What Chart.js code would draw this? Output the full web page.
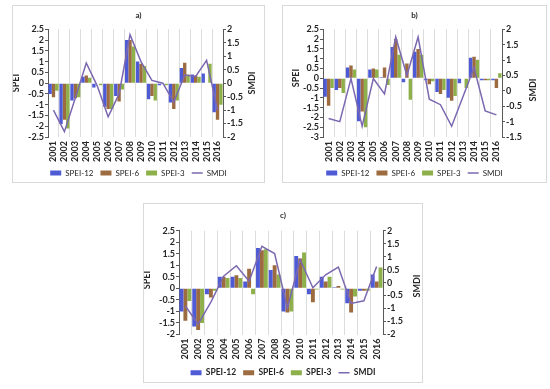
<!DOCTYPE html>
<html>
<head>
<meta charset="utf-8">
<script src="https://cdn.jsdelivr.net/npm/chart.js@4.4.1/dist/chart.umd.min.js"></script>
<style>
  body { margin: 0; background: #fff; width: 550px; height: 389px; position: relative; overflow: hidden; }
  .panel { position: absolute; border: 1px solid #d9d9d9; box-sizing: border-box; }
  canvas { position: absolute; }
</style>
</head>
<body>
<div class="panel" style="left:12px;top:5px;width:253px;height:178px"></div>
<div class="panel" style="left:282px;top:5px;width:265px;height:178px"></div>
<div class="panel" style="left:143px;top:203px;width:280px;height:180px"></div>
<canvas id="chartA" width="251" height="181" style="left:13px;top:6px"></canvas>
<canvas id="chartB" width="263" height="181" style="left:283px;top:6px"></canvas>
<canvas id="chartC" width="278" height="183" style="left:144px;top:204px"></canvas>
<script>
// Data
const years = ['2001', '2002', '2003', '2004', '2005', '2006', '2007', '2008',
               '2009', '2010', '2011', '2012', '2013', '2014', '2015', '2016'];
const seriesNames = ['SPEI-12', 'SPEI-6', 'SPEI-3', 'SMDI'];
const leftTitle = 'SPEI';
const rightTitle = 'SMDI';

// panel a)
const aSpei12 = [-0.5, -1.9, -0.8, 0.3, -0.2, -1.1, -0.6, 2.0, 1.0, -0.75, -0.1, -0.9, 0.7, 0.4, 0.45, -1.35];
const aSpei6  = [-0.65, -1.7, -0.7, 0.35, 0.0, -1.2, -0.85, 2.0, 0.9, -0.6, 0.0, -1.2, 0.95, 0.35, 0.0, -1.7];
const aSpei3  = [-0.35, -2.1, -0.65, 0.25, -0.1, -1.2, -0.3, 1.7, 0.8, -0.8, -0.1, -0.8, 0.4, 0.3, 0.9, -1.0];
const aSmdi   = [-1.0, -1.8, -0.55, 0.75, -0.1, -1.25, -0.4, 1.8, 0.8, 0.1, 0.0, -0.7, 0.3, 0.25, 0.85, -1.0];

// panel b)
const bSpei12 = [-0.95, -0.6, 0.55, -2.2, 0.45, 0.05, 1.6, -0.2, 1.35, -0.1, -0.7, -1.0, -0.25, 1.05, -0.1, -0.1];
const bSpei6  = [-1.4, -0.5, 0.65, -1.7, 0.5, 0.55, 2.0, 0.75, 1.5, -0.3, -0.8, -1.15, 0.0, 1.1, -0.1, -0.5];
const bSpei3  = [-0.5, -0.75, 0.45, -2.5, 0.45, -0.35, 1.2, -1.1, 1.2, -0.15, -0.6, -0.9, -0.5, 0.95, -0.1, 0.25];
const bSmdi   = [-0.9, -1.0, 0.4, -1.15, 0.4, -0.1, 1.75, 0.5, 1.75, -0.27, -0.45, -1.15, -0.2, 0.75, -0.65, -0.78];

// panel c)
const cSpei12 = [-1.0, -1.65, -0.25, 0.5, 0.5, 0.3, 1.75, 0.8, -1.0, 1.4, -0.25, 0.5, 0.05, -0.65, -0.1, 0.6];
const cSpei6  = [-1.4, -1.8, -0.4, 0.5, 0.57, 0.85, 1.65, 1.0, -1.05, 1.3, -0.6, 0.3, 0.1, -1.05, -0.1, 0.3];
const cSpei3  = [-0.55, -1.5, -0.1, 0.45, 0.45, -0.25, 1.7, 0.6, -1.0, 1.55, -0.05, 0.5, -0.05, -0.35, -0.1, 0.9];
const cSmdi   = [-0.9, -1.6, -0.75, 0.25, 0.65, 0.05, 1.4, 1.12, -0.98, 0.88, -0.2, 0.3, 0.6, -0.8, -0.7, 0.62];

const FONT = 'Lato, "Open Sans", sans-serif';
Chart.defaults.font.family = FONT;
Chart.defaults.color = '#262626';

// draws the rotated axis titles (both read bottom to top)
const axisTitles = {
    id: 'axisTitles',
    afterDraw(chart, args, opts) {
        const ctx = chart.ctx;
        ctx.save();
        ctx.font = 'bold 9px ' + FONT;
        ctx.fillStyle = '#262626';
        ctx.textAlign = 'center';
        ctx.textBaseline = 'middle';
        [[leftTitle, opts.leftX, opts.leftY], [rightTitle, opts.rightX, opts.rightY]].forEach(([t, x, y]) => {
            ctx.save();
            ctx.translate(x, y);
            ctx.rotate(-Math.PI / 2);
            ctx.fillText(t, 0, 0);
            ctx.restore();
        });
        ctx.restore();
    }
};

// tick text like Excel: 2.5, 2, 1.5 ... no trailing zeros
const tickText = (v) => String(+v.toFixed(2));

function makeChart(p) {
    const ctx = document.getElementById(p.id).getContext('2d');
    return new Chart(ctx, {
        type: 'bar',
        data: {
            labels: years,
            datasets: [
                { label: seriesNames[0], data: p.s12, backgroundColor: '#4f5bd5', yAxisID: 'y', order: 1 },
                { label: seriesNames[1], data: p.s6, backgroundColor: '#9c6b3f', yAxisID: 'y', order: 1 },
                { label: seriesNames[2], data: p.s3, backgroundColor: '#8db04a', yAxisID: 'y', order: 1 },
                {
                    type: 'line', label: seriesNames[3], data: p.smdi, yAxisID: 'y1', order: 0,
                    borderColor: '#7b68b0', borderWidth: 1.5, pointRadius: 0, tension: 0, fill: false
                }
            ]
        },
        options: {
            responsive: false,
            animation: false,
            datasets: { bar: { barPercentage: 1.0, categoryPercentage: 0.92 } },
            layout: { padding: 0 },
            scales: {
                x: {
                    grid: { display: true, color: '#dcdcdc', drawTicks: false, offset: true },
                    border: { display: false },
                    ticks: { minRotation: 90, maxRotation: 90, padding: 4, autoSkip: false,
                             font: { size: 9, weight: 'bold' } },
                    afterFit: (s) => { s.height = p.xH; }
                },
                y: {
                    position: 'left', min: p.yMin, max: p.yMax,
                    grid: { display: true, drawOnChartArea: false, drawTicks: true, tickLength: 3, color: '#595959' },
                    border: { display: true, color: '#595959' },
                    ticks: { stepSize: 0.5, padding: 1, autoSkip: false, callback: tickText,
                             font: { size: 9, weight: 'bold' } },
                    afterFit: (s) => { s.width = p.leftW; }
                },
                y1: {
                    position: 'right', min: p.y1Min, max: p.y1Max,
                    grid: { display: true, drawOnChartArea: false, drawTicks: true, tickLength: 3, color: '#595959' },
                    border: { display: true, color: '#595959' },
                    ticks: { stepSize: 0.5, padding: 1, autoSkip: false, callback: tickText,
                             font: { size: 9, weight: 'bold' } },
                    afterFit: (s) => { s.width = p.rightW; }
                }
            },
            plugins: {
                title: {
                    display: true, text: p.title, color: '#262626',
                    font: { size: 8, weight: 'bold' }, padding: p.titlePad
                },
                legend: {
                    position: 'bottom',
                    labels: {
                        usePointStyle: true, pointStyleWidth: 11, boxHeight: 5, padding: 7,
                        font: { size: p.legendSize, weight: p.legendWeight }, color: '#262626',
                        generateLabels(chart) {
                            const items = Chart.defaults.plugins.legend.labels.generateLabels(chart);
                            items.forEach(it => {
                                const ds = chart.data.datasets[it.datasetIndex];
                                if (ds.type === 'line') {
                                    it.pointStyle = 'line';
                                    it.lineWidth = 1.5;
                                    it.strokeStyle = ds.borderColor;
                                } else {
                                    it.pointStyle = 'rect';
                                    it.lineWidth = 0;
                                }
                            });
                            return items.sort((a, b) => a.datasetIndex - b.datasetIndex);
                        }
                    }
                },
                tooltip: { enabled: false },
                axisTitles: { leftX: p.leftX, leftY: p.leftY, rightX: p.rightX, rightY: p.rightY }
            }
        },
        plugins: [axisTitles]
    });
}

makeChart({
    id: 'chartA', title: 'a)', s12: aSpei12, s6: aSpei6, s3: aSpei3, smdi: aSmdi,
    yMin: -2.5, yMax: 2.5, y1Min: -2, y1Max: 2,
    leftW: 35, rightW: 41, xH: 25, titlePad: { top: 5, bottom: 8.7 },
    legendSize: 8, legendWeight: 'normal',
    leftX: 3.5, leftY: 77, rightX: 239, rightY: 77
});

makeChart({
    id: 'chartB', title: 'b)', s12: bSpei12, s6: bSpei6, s3: bSpei3, smdi: bSmdi,
    yMin: -3, yMax: 2.5, y1Min: -1.5, y1Max: 2,
    leftW: 40, rightW: 44, xH: 25, titlePad: { top: 5, bottom: 8.7 },
    legendSize: 8, legendWeight: 'normal',
    leftX: 13, leftY: 72, rightX: 250, rightY: 84
});

makeChart({
    id: 'chartC', title: 'c)', s12: cSpei12, s6: cSpei6, s3: cSpei3, smdi: cSmdi,
    yMin: -2, yMax: 2.5, y1Min: -2, y1Max: 2,
    leftW: 35, rightW: 39, xH: 27, titlePad: { top: 6.2, bottom: 10.9 },
    legendSize: 8.5, legendWeight: 'bold',
    leftX: 3.5, leftY: 76, rightX: 273, rightY: 82
});
</script>
</body>
</html>
